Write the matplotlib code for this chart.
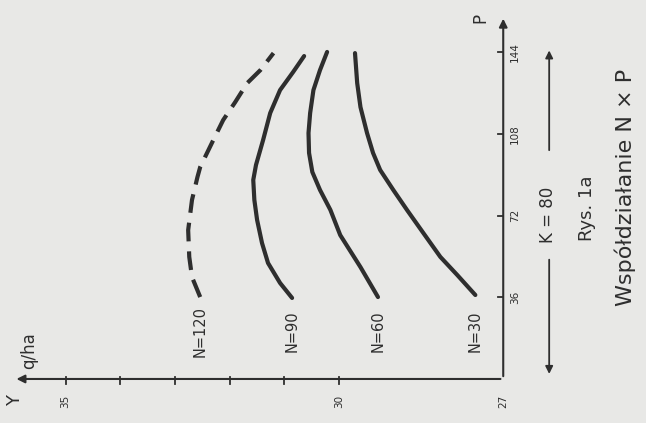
import numpy as np
import matplotlib.pyplot as plt

# yield q/ha (drawn along the bottom, decreasing to the right) vs P dose (upwards)
# the scan is turned 90 degrees, so the plot is drawn turned as well

p_n30 = [37.0, 45.8, 53.8, 64.3, 74.5, 83.3, 92.1, 99.6, 108.4, 119.8, 130.4, 143.6]
y_n30 = [27.51, 27.84, 28.15, 28.46, 28.76, 29.01, 29.25, 29.38, 29.49, 29.61, 29.67, 29.71]

p_n60 = [36.1, 49.3, 63.4, 74.5, 83.3, 91.2, 99.6, 108.4, 117.2, 127.3, 136.1, 144.1]
y_n60 = [29.29, 29.61, 29.98, 30.16, 30.35, 30.49, 30.55, 30.56, 30.53, 30.47, 30.35, 30.22]

p_n90 = [35.7, 42.3, 51.1, 59.9, 70.1, 78.9, 87.7, 94.3, 105.3, 117.2, 127.3, 135.3, 142.3]
y_n90 = [30.86, 31.08, 31.30, 31.41, 31.50, 31.55, 31.57, 31.52, 31.39, 31.26, 31.08, 30.84, 30.64]

p_n120 = [36.1, 44.9, 53.8, 65.6, 78.9, 89.0, 93.4, 105.3, 114.1, 122.0, 130.4, 136.1, 143.6]
y_n120 = [32.54, 32.69, 32.74, 32.76, 32.69, 32.59, 32.54, 32.30, 32.12, 31.90, 31.68, 31.44, 31.20]

labels = ['N=30', 'N=60', 'N=90', 'N=120']
p_ticks = [36, 72, 108, 144]
y_ticks = [30, 31, 32, 33, 34, 35]
y_ticklabels = {35: '35', 30: '30', 27: '27'}

ink = '#2e2e2e'
bg = '#e8e8e6'

fig = plt.figure(figsize=(6.46, 4.23), dpi=100, facecolor=bg)
ax = fig.add_axes([0, 0, 1, 1])
ax.set_facecolor(bg)
ax.set_xlim(36.2, 24.39)
ax.set_ylim(-19.4, 167.0)
ax.axis('off')

# axes with arrows
ax.annotate('', xy=(35.95, 0), xytext=(27, 0),
            arrowprops=dict(arrowstyle='-|>', color=ink, lw=1.5, mutation_scale=12))
ax.annotate('', xy=(27, 160), xytext=(27, 0),
            arrowprops=dict(arrowstyle='-|>', color=ink, lw=1.5, mutation_scale=12))

for t in y_ticks:
    ax.plot([t, t], [-2.2, 1.0], color=ink, lw=1.3)
for t, s in y_ticklabels.items():
    ax.text(t, -10, s, rotation=90, ha='center', va='center', fontsize=7.5, color=ink)
for t in p_ticks:
    ax.plot([27.1, 27], [t, t], color=ink, lw=1.3)
    ax.text(26.78, t, str(t), rotation=90, ha='center', va='center', fontsize=7.5, color=ink)

ax.text(35.92, -9.5, 'Y', rotation=90, ha='center', va='center', fontsize=13, color=ink)
ax.text(35.66, 12.5, 'q/ha', rotation=90, ha='center', va='center', fontsize=12, color=ink)
ax.text(27.42, 159, 'P', rotation=90, ha='center', va='center', fontsize=12, color=ink)

# curves
ax.plot(y_n30, p_n30, color=ink, lw=3, solid_capstyle='round', solid_joinstyle='round')
ax.plot(y_n60, p_n60, color=ink, lw=3, solid_capstyle='round', solid_joinstyle='round')
ax.plot(y_n90, p_n90, color=ink, lw=3, solid_capstyle='round', solid_joinstyle='round')
ax.plot(y_n120, p_n120, color=ink, lw=3, linestyle=(0, (4.5, 2.4)))

for lab, yv in zip(labels, [y_n30[0], y_n60[0], y_n90[0], y_n120[0]]):
    ax.text(yv, 21, lab, rotation=90, ha='center', va='center', fontsize=10.5, color=ink)

# K = 80 double arrow
ax.annotate('', xy=(26.16, 146), xytext=(26.16, 99.6),
            arrowprops=dict(arrowstyle='-|>', color=ink, lw=1.3, mutation_scale=11))
ax.annotate('', xy=(26.16, 1), xytext=(26.16, 53.8),
            arrowprops=dict(arrowstyle='-|>', color=ink, lw=1.3, mutation_scale=11))
ax.text(26.18, 72.5, 'K = 80', rotation=90, ha='center', va='center', fontsize=12, color=ink)

ax.text(25.46, 75.3, 'Rys. 1a', rotation=90, ha='center', va='center', fontsize=13, color=ink)
ax.text(24.77, 84.6, 'Współdziałanie N × P', rotation=90, ha='center', va='center',
        fontsize=16, color=ink)

fig.savefig('out.png', dpi=100, facecolor=bg)
